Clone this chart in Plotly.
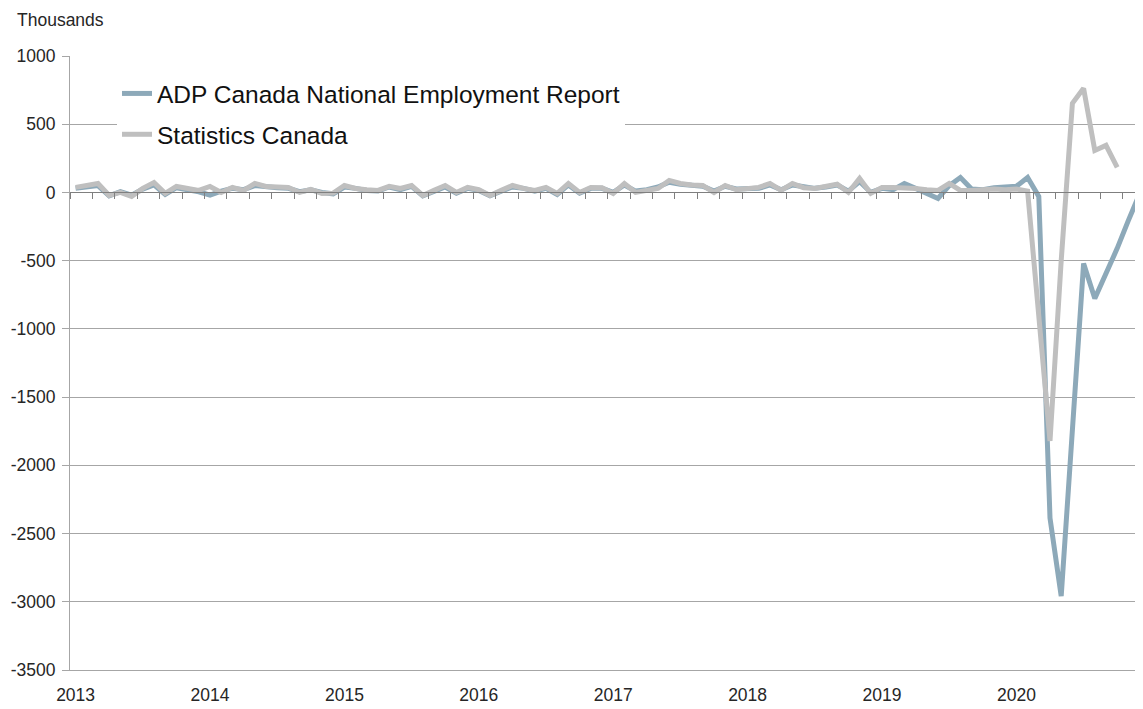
import pandas as pd
import plotly.graph_objects as go

# Monthly categories Jan 2013 - Dec 2020
months = [d.strftime("%Y-%m") for d in pd.date_range("2013-01-01", periods=96, freq="MS")]
year_ticks = [m for m in months if m.endswith("-01")]
year_labels = [m[:4] for m in year_ticks]

# ADP Canada National Employment Report (thousands, monthly change)
adp = [
    30, 40, 50, -25, 5, -20, 25, 55, -15, 35, 20, 5,        # 2013
    -20, 10, 30, 20, 50, 40, 35, 30, 5, 20, 0, -10,         # 2014
    40, 30, 15, 10, 40, 20, 45, -25, 10, 40, -5, 30,        # 2015
    15, -25, 10, 40, 30, 10, 30, -15, 55, -5, 30, 30,       # 2016
    0, 55, 10, 20, 40, 75, 60, 50, 45, 10, 45, 25,          # 2017
    30, 30, 55, 20, 55, 40, 30, 40, 55, 10, 80, 0,          # 2018
    30, 20, 66, 30, -10, -44, 50, 110, 25, 20, 35, 40,      # 2019
    45, 110, -30, -2386, -2959, -1740, -521, -778, -600, -410, -205, -10,  # 2020
]

# Statistics Canada (thousands, monthly change), Jan 2013 - Oct 2020
statcan = [
    37, 55, 66, -22, 0, -29, 30, 73, -7, 44, 25, 15,        # 2013
    44, 0, 37, 15, 66, 44, 40, 37, 0, 22, -7, -5,           # 2014
    51, 29, 20, 15, 45, 29, 51, -22, 15, 51, 0, 37,         # 2015
    20, -22, 15, 51, 30, 15, 37, -7, 66, 0, 37, 35,         # 2016
    -7, 66, 0, 15, 29, 88, 66, 55, 51, 0, 51, 20,           # 2017
    25, 37, 66, 15, 66, 35, 29, 44, 60, 0, 103, -7,         # 2018
    37, 37, 37, 29, 20, 15, 66, 15, 15, 20, 25, 20,         # 2019
    25, 10, -950, -1821, -500, 653, 763, 308, 345, 184,     # 2020
]

y_ticks = [1000, 500, 0, -500, -1000, -1500, -2000, -2500, -3000, -3500]
y_labels = [str(v) for v in y_ticks]

ADP_COLOR = "#8DA9B9"
SC_COLOR = "#BFBFBF"
FONT = "Liberation Sans"
GRID = "#A6A6A6"

# page body has an 8px margin, so the figure is sized to fit the window
FIG_W, FIG_H = 1135, 701
M_L, M_T, M_B = 62, 48, 39
PLOT_W = FIG_W - M_L
PLOT_H = FIG_H - M_T - M_B
x_range = [-0.5, -0.5 + PLOT_W / 11.2]

fig = go.Figure()
fig.add_trace(go.Scatter(
    x=months, y=adp, mode="lines", name="ADP Canada National Employment Report",
    line=dict(color=ADP_COLOR, width=5), legendgroup="a",
))
fig.add_trace(go.Scatter(
    x=months[:len(statcan)], y=statcan, mode="lines", name="Statistics Canada",
    line=dict(color=SC_COLOR, width=5), legendgroup="b",
))
# helper trace on the bottom (year label) axis
fig.add_trace(go.Scatter(
    x=list(range(len(months))), y=[None] * len(months), xaxis="x2",
    showlegend=False, hoverinfo="skip",
))

fig.update_layout(
    width=FIG_W, height=FIG_H,
    margin=dict(l=M_L, r=0, t=M_T, b=M_B, autoexpand=False),
    paper_bgcolor="white", plot_bgcolor="white",
    font=dict(family=FONT, size=17.5, color="#262626"),
    showlegend=True,
    legend=dict(
        x=47 / PLOT_W, y=1 - 15 / PLOT_H, xanchor="left", yanchor="top",
        bgcolor="white", borderwidth=0,
        font=dict(family=FONT, size=24.5, color="#111111"),
        tracegroupgap=6, traceorder="grouped",
    ),
    # category axis sitting on the zero line, with monthly ticks at boundaries
    xaxis=dict(
        type="category", categoryorder="array", categoryarray=months,
        range=x_range, anchor="free", position=3500 / 4500,
        tickson="boundaries", ticks="outside", ticklen=6, tickcolor="#7F7F7F",
        showticklabels=False, showgrid=False, zeroline=False,
        showline=True, linecolor="#7F7F7F", linewidth=1, automargin=False,
    ),
    # bottom axis carrying the year labels
    xaxis2=dict(
        overlaying="x", anchor="y", side="bottom",
        range=x_range, tickmode="array",
        tickvals=[months.index(m) for m in year_ticks], ticktext=year_labels,
        showgrid=False, zeroline=False, showline=True, linecolor=GRID, linewidth=1,
        ticks="", ticklabelstandoff=9, tickfont=dict(size=17.5), automargin=False,
    ),
    yaxis=dict(
        range=[-3500, 1000], tickmode="array", tickvals=y_ticks, ticktext=y_labels,
        showgrid=True, gridcolor=GRID, gridwidth=1, zeroline=False,
        showline=True, linecolor=GRID, linewidth=1,
        ticks="outside", ticklen=7, tickcolor=GRID, ticklabelstandoff=3,
        tickfont=dict(size=17.5), automargin=False,
    ),
    annotations=[dict(
        text="Thousands", xref="paper", yref="paper", x=(7 - M_L) / PLOT_W, y=1 + 36 / PLOT_H,
        xanchor="left", yanchor="middle", showarrow=False,
        font=dict(family=FONT, size=17.5, color="#262626"),
    )],
)

fig.write_html("out.html")
